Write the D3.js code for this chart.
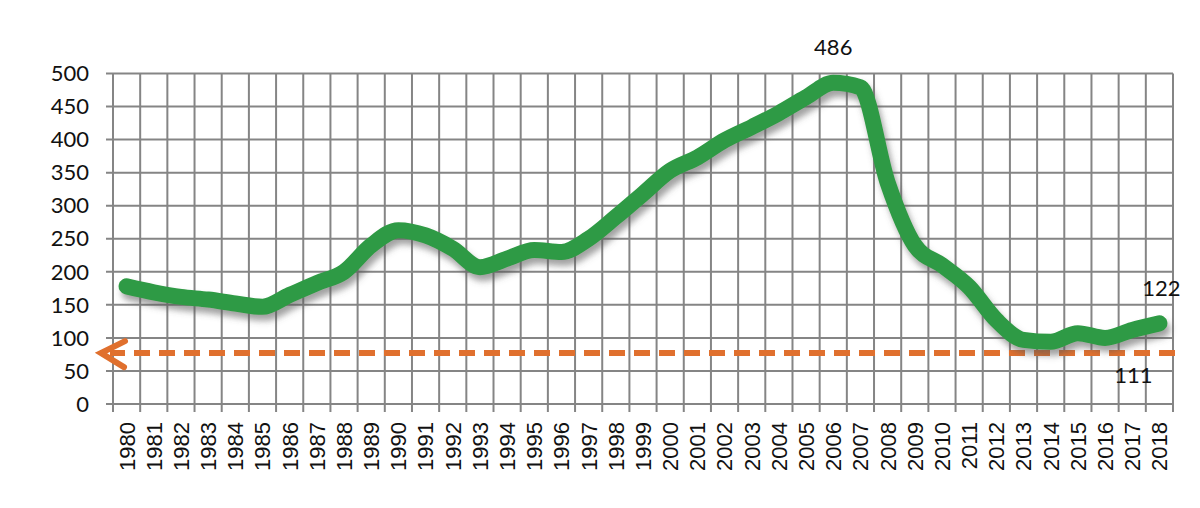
<!DOCTYPE html>
<html><head><meta charset="utf-8">
<script src="https://cdn.jsdelivr.net/npm/d3@7"></script>
<style>body{margin:0;background:#fff}svg{display:block}</style>
</head><body>
<svg id="c" width="1200" height="508"></svg>
<script>
const years = d3.range(1980, 2019).map(String);
const values = [178,169,162,158,152,147,165,183,200,240,263,255,235,207,220,233,230,250,283,318,353,373,399,419,440,464,486,479,335,240,210,177,127,97,94,107,100,112,122];
const yTicks = [0,50,100,150,200,250,300,350,400,450,500];
const refValue = 77;
const annotations = [{year:"2006", text:"486", dx:0, dy:-28}, {year:"2018", text:"122", dx:2, dy:-27}, {year:"2018", text:"111", dx:-26, dy:60}];

const svg = d3.select("#c");
const pLeft = 113, pRight = 1173, pTop = 73.5, pBottom = 404;
const x = d3.scaleBand().domain(years).range([pLeft, pRight]);
const y = d3.scaleLinear().domain([0, 500]).range([pBottom, pTop]);

const defs = svg.append("defs");
const f = defs.append("filter").attr("id","sh").attr("x","-10%").attr("y","-20%").attr("width","130%").attr("height","160%");
f.append("feDropShadow").attr("dx",3).attr("dy",6).attr("stdDeviation",3).attr("flood-color","#555").attr("flood-opacity",0.55);

const grid = "#858585";
svg.append("g").selectAll("line").data(yTicks).join("line")
  .attr("x1", pLeft-7).attr("x2", pRight)
  .attr("y1", d=>y(d)).attr("y2", d=>y(d))
  .attr("stroke", grid).attr("stroke-width", 2);
const bounds = years.map(d=>x(d)).concat([pRight]);
svg.append("g").selectAll("line").data(bounds).join("line")
  .attr("x1", d=>d).attr("x2", d=>d)
  .attr("y1", pTop).attr("y2", pBottom+8)
  .attr("stroke", grid).attr("stroke-width", 2);

svg.append("g").selectAll("text").data(yTicks).join("text")
  .attr("x", 89).attr("y", d=>y(d)).attr("dy","0.35em")
  .attr("text-anchor","end").attr("font-family","Lato, sans-serif").attr("font-size",22)
  .attr("fill","#111").text(d=>d);

svg.append("g").selectAll("text").data(years).join("text")
  .attr("transform", d=>`translate(${x(d)+x.bandwidth()/2},422) rotate(-90)`)
  .attr("dy","0.36em").attr("text-anchor","end")
  .attr("font-family","'Liberation Sans', Arial, sans-serif").attr("font-size",22)
  .attr("fill","#111").text(d=>d);

const ry = y(refValue);
svg.append("line").attr("x1", 1175).attr("x2", 110).attr("y1", ry).attr("y2", ry)
  .attr("stroke","#e0702e").attr("stroke-width",6).attr("stroke-dasharray","16,9");
svg.append("path").attr("d", `M125,${ry-12} L101,${ry} L124,${ry+14}`)
  .attr("fill","none").attr("stroke","#e0702e").attr("stroke-width",6).attr("stroke-linecap","round").attr("stroke-linejoin","miter");

const line = d3.line().x((d,i)=>x(years[i])+x.bandwidth()/2).y(d=>y(d)).curve(d3.curveMonotoneX);
svg.append("path").datum(values).attr("d", line)
  .attr("fill","none").attr("stroke","#2f9a44").attr("stroke-width",16)
  .attr("stroke-linecap","round").attr("stroke-linejoin","round").attr("filter","url(#sh)");

svg.append("g").selectAll("text").data(annotations).join("text")
  .attr("x", d=>x(d.year)+x.bandwidth()/2+d.dx)
  .attr("y", d=>y(values[years.indexOf(d.year)])+d.dy)
  .attr("text-anchor","middle").attr("font-family","Lato, sans-serif").attr("font-size",22)
  .attr("fill","#111").text(d=>d.text);
</script>
</body></html>
